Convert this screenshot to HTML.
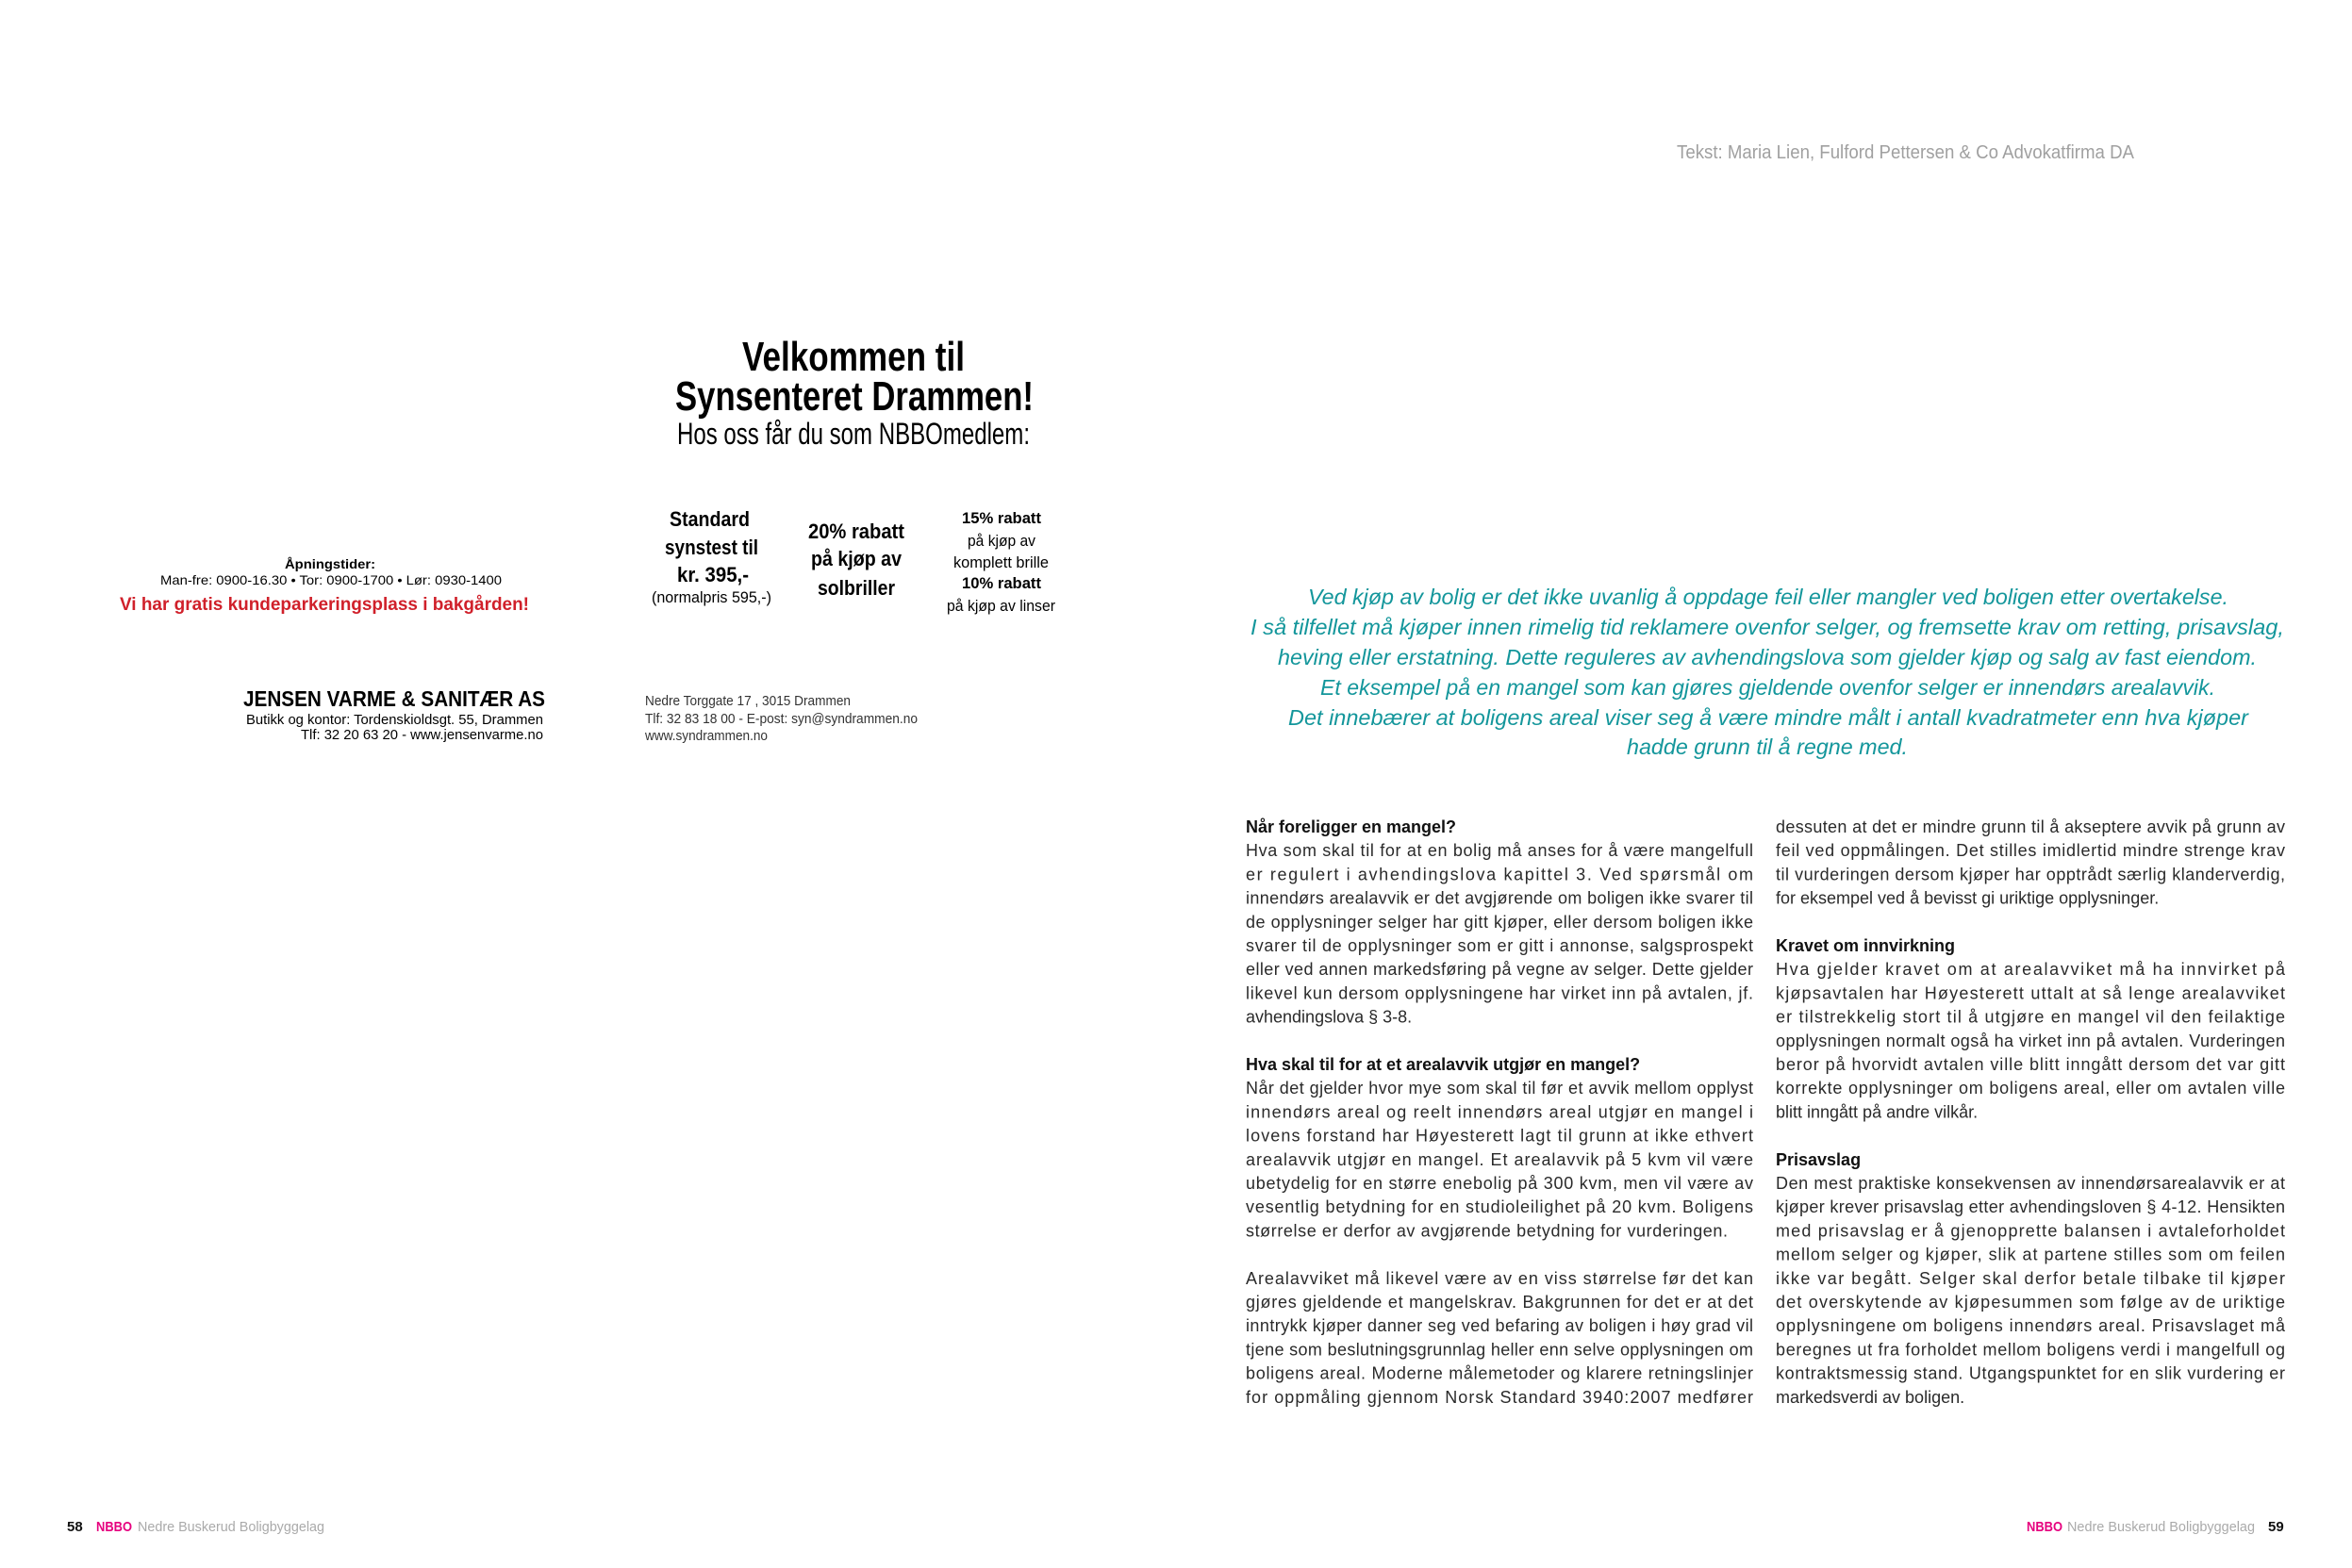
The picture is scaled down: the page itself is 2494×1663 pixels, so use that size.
<!DOCTYPE html>
<html><head><meta charset="utf-8"><style>
html,body{margin:0;padding:0;background:#fff;}
svg{display:block;}
.b{font-family:"Liberation Sans",sans-serif;font-size:18px;fill:#2a2a2a;}
.h{font-family:"Liberation Sans",sans-serif;font-size:18px;font-weight:bold;fill:#111;}
.ad{font-family:"Liberation Sans",sans-serif;fill:#000;}
.t{font-family:"Liberation Sans",sans-serif;font-style:italic;font-size:23px;fill:#13969b;}
</style></head><body>
<svg width="2494" height="1663" viewBox="0 0 2494 1663" xmlns="http://www.w3.org/2000/svg">
<text x="1778" y="168" font-family="Liberation Sans,sans-serif" font-size="20" fill="#a0a0a0" textLength="485" lengthAdjust="spacingAndGlyphs">Tekst: Maria Lien, Fulford Pettersen &amp; Co Advokatfirma DA</text>

<!-- Ad -->
<g class="ad" font-weight="bold">
<text x="787" y="393" font-size="44" textLength="236" lengthAdjust="spacingAndGlyphs">Velkommen til</text>
<text x="716" y="435" font-size="44" textLength="380" lengthAdjust="spacingAndGlyphs">Synsenteret Drammen!</text>
<text x="710" y="558" font-size="22" textLength="85" lengthAdjust="spacingAndGlyphs">Standard</text>
<text x="705" y="588" font-size="22" textLength="99" lengthAdjust="spacingAndGlyphs">synstest til</text>
<text x="718" y="617" font-size="22" textLength="76" lengthAdjust="spacingAndGlyphs">kr. 395,-</text>
<text x="857" y="571" font-size="22" textLength="102" lengthAdjust="spacingAndGlyphs">20% rabatt</text>
<text x="860" y="600" font-size="22" textLength="96" lengthAdjust="spacingAndGlyphs">på kjøp av</text>
<text x="867" y="631" font-size="22" textLength="82" lengthAdjust="spacingAndGlyphs">solbriller</text>
<text x="1020" y="555" font-size="17" textLength="84" lengthAdjust="spacingAndGlyphs">15% rabatt</text>
<text x="1020" y="624" font-size="17" textLength="84" lengthAdjust="spacingAndGlyphs">10% rabatt</text>
<text x="302" y="603" font-size="14" textLength="96" lengthAdjust="spacingAndGlyphs">Åpningstider:</text>
<text x="127" y="647" font-size="19" fill="#d0202a" textLength="434" lengthAdjust="spacingAndGlyphs">Vi har gratis kundeparkeringsplass i bakgården!</text>
<text x="258" y="749" font-size="23" textLength="320" lengthAdjust="spacingAndGlyphs">JENSEN VARME &amp; SANITÆR AS</text>
</g>
<g class="ad">
<text x="718" y="471" font-size="32" textLength="374" lengthAdjust="spacingAndGlyphs">Hos oss får du som NBBOmedlem:</text>
<text x="691" y="639" font-size="17" textLength="127" lengthAdjust="spacingAndGlyphs">(normalpris 595,-)</text>
<text x="1026" y="579" font-size="17" textLength="72" lengthAdjust="spacingAndGlyphs">på kjøp av</text>
<text x="1011" y="602" font-size="17" textLength="101" lengthAdjust="spacingAndGlyphs">komplett brille</text>
<text x="1004" y="648" font-size="17" textLength="115" lengthAdjust="spacingAndGlyphs">på kjøp av linser</text>
<text x="170" y="620" font-size="14" textLength="362" lengthAdjust="spacingAndGlyphs">Man-fre: 0900-16.30 • Tor: 0900-1700 • Lør: 0930-1400</text>
<text x="261" y="768" font-size="15" textLength="315" lengthAdjust="spacingAndGlyphs">Butikk og kontor: Tordenskioldsgt. 55, Drammen</text>
<text x="319" y="784" font-size="15" textLength="257" lengthAdjust="spacingAndGlyphs">Tlf: 32 20 63 20 - www.jensenvarme.no</text>
<g fill="#333">
<text x="684" y="748" font-size="15" textLength="218" lengthAdjust="spacingAndGlyphs">Nedre Torggate 17 , 3015 Drammen</text>
<text x="684" y="767" font-size="15" textLength="289" lengthAdjust="spacingAndGlyphs">Tlf: 32 83 18 00 - E-post: syn@syndrammen.no</text>
<text x="684" y="785" font-size="15" textLength="130" lengthAdjust="spacingAndGlyphs">www.syndrammen.no</text>
</g>
</g>

<!-- teal intro -->
<text class="t" x="1387" y="641" textLength="976" lengthAdjust="spacingAndGlyphs">Ved kjøp av bolig er det ikke uvanlig å oppdage feil eller mangler ved boligen etter overtakelse.</text>
<text class="t" x="1326" y="673" textLength="1096" lengthAdjust="spacingAndGlyphs">I så tilfellet må kjøper innen rimelig tid reklamere ovenfor selger, og fremsette krav om retting, prisavslag,</text>
<text class="t" x="1355" y="705" textLength="1038" lengthAdjust="spacingAndGlyphs">heving eller erstatning. Dette reguleres av avhendingslova som gjelder kjøp og salg av fast eiendom.</text>
<text class="t" x="1400" y="737" textLength="949" lengthAdjust="spacingAndGlyphs">Et eksempel på en mangel som kan gjøres gjeldende ovenfor selger er innendørs arealavvik.</text>
<text class="t" x="1366" y="769" textLength="1018" lengthAdjust="spacingAndGlyphs">Det innebærer at boligens areal viser seg å være mindre målt i antall kvadratmeter enn hva kjøper</text>
<text class="t" x="1725" y="800" textLength="298" lengthAdjust="spacingAndGlyphs">hadde grunn til å regne med.</text>

<!-- left column -->
<g>
<text class="h" x="1321" y="883">Når foreligger en mangel?</text>
<text class="b" x="1321" y="908.2" textLength="538" lengthAdjust="spacing">Hva som skal til for at en bolig må anses for å være mangelfull</text>
<text class="b" x="1321" y="933.4" textLength="538" lengthAdjust="spacing">er regulert i avhendingslova kapittel 3. Ved spørsmål om</text>
<text class="b" x="1321" y="958.6" textLength="538" lengthAdjust="spacing">innendørs arealavvik er det avgjørende om boligen ikke svarer til</text>
<text class="b" x="1321" y="983.8" textLength="538" lengthAdjust="spacing">de opplysninger selger har gitt kjøper, eller dersom boligen ikke</text>
<text class="b" x="1321" y="1009" textLength="538" lengthAdjust="spacing">svarer til de opplysninger som er gitt i annonse, salgsprospekt</text>
<text class="b" x="1321" y="1034.2" textLength="538" lengthAdjust="spacing">eller ved annen markedsføring på vegne av selger. Dette gjelder</text>
<text class="b" x="1321" y="1059.4" textLength="538" lengthAdjust="spacing">likevel kun dersom opplysningene har virket inn på avtalen, jf.</text>
<text class="b" x="1321" y="1084.6">avhendingslova § 3-8.</text>
<text class="h" x="1321" y="1135">Hva skal til for at et arealavvik utgjør en mangel?</text>
<text class="b" x="1321" y="1160.2" textLength="538" lengthAdjust="spacing">Når det gjelder hvor mye som skal til før et avvik mellom opplyst</text>
<text class="b" x="1321" y="1185.4" textLength="538" lengthAdjust="spacing">innendørs areal og reelt innendørs areal utgjør en mangel i</text>
<text class="b" x="1321" y="1210.6" textLength="538" lengthAdjust="spacing">lovens forstand har Høyesterett lagt til grunn at ikke ethvert</text>
<text class="b" x="1321" y="1235.8" textLength="538" lengthAdjust="spacing">arealavvik utgjør en mangel. Et arealavvik på 5 kvm vil være</text>
<text class="b" x="1321" y="1261" textLength="538" lengthAdjust="spacing">ubetydelig for en større enebolig på 300 kvm, men vil være av</text>
<text class="b" x="1321" y="1286.2" textLength="538" lengthAdjust="spacing">vesentlig betydning for en studioleilighet på 20 kvm. Boligens</text>
<text class="b" x="1321" y="1311.4" textLength="511" lengthAdjust="spacing">størrelse er derfor av avgjørende betydning for vurderingen.</text>
<text class="b" x="1321" y="1361.8" textLength="538" lengthAdjust="spacing">Arealavviket må likevel være av en viss størrelse før det kan</text>
<text class="b" x="1321" y="1387" textLength="538" lengthAdjust="spacing">gjøres gjeldende et mangelskrav. Bakgrunnen for det er at det</text>
<text class="b" x="1321" y="1412.2" textLength="538" lengthAdjust="spacing">inntrykk kjøper danner seg ved befaring av boligen i høy grad vil</text>
<text class="b" x="1321" y="1437.4" textLength="538" lengthAdjust="spacing">tjene som beslutningsgrunnlag heller enn selve opplysningen om</text>
<text class="b" x="1321" y="1462.6" textLength="538" lengthAdjust="spacing">boligens areal. Moderne målemetoder og klarere retningslinjer</text>
<text class="b" x="1321" y="1487.8" textLength="538" lengthAdjust="spacing">for oppmåling gjennom Norsk Standard 3940:2007 medfører</text>
</g>
<!-- right column -->
<g>
<text class="b" x="1883" y="883" textLength="540" lengthAdjust="spacing">dessuten at det er mindre grunn til å akseptere avvik på grunn av</text>
<text class="b" x="1883" y="908.2" textLength="540" lengthAdjust="spacing">feil ved oppmålingen. Det stilles imidlertid mindre strenge krav</text>
<text class="b" x="1883" y="933.4" textLength="540" lengthAdjust="spacing">til vurderingen dersom kjøper har opptrådt særlig klanderverdig,</text>
<text class="b" x="1883" y="958.6">for eksempel ved å bevisst gi uriktige opplysninger.</text>
<text class="h" x="1883" y="1009">Kravet om innvirkning</text>
<text class="b" x="1883" y="1034.2" textLength="540" lengthAdjust="spacing">Hva gjelder kravet om at arealavviket må ha innvirket på</text>
<text class="b" x="1883" y="1059.4" textLength="540" lengthAdjust="spacing">kjøpsavtalen har Høyesterett uttalt at så lenge arealavviket</text>
<text class="b" x="1883" y="1084.6" textLength="540" lengthAdjust="spacing">er tilstrekkelig stort til å utgjøre en mangel vil den feilaktige</text>
<text class="b" x="1883" y="1109.8" textLength="540" lengthAdjust="spacing">opplysningen normalt også ha virket inn på avtalen. Vurderingen</text>
<text class="b" x="1883" y="1135" textLength="540" lengthAdjust="spacing">beror på hvorvidt avtalen ville blitt inngått dersom det var gitt</text>
<text class="b" x="1883" y="1160.2" textLength="540" lengthAdjust="spacing">korrekte opplysninger om boligens areal, eller om avtalen ville</text>
<text class="b" x="1883" y="1185.4">blitt inngått på andre vilkår.</text>
<text class="h" x="1883" y="1235.8">Prisavslag</text>
<text class="b" x="1883" y="1261" textLength="540" lengthAdjust="spacing">Den mest praktiske konsekvensen av innendørsarealavvik er at</text>
<text class="b" x="1883" y="1286.2" textLength="540" lengthAdjust="spacing">kjøper krever prisavslag etter avhendingsloven § 4-12. Hensikten</text>
<text class="b" x="1883" y="1311.4" textLength="540" lengthAdjust="spacing">med prisavslag er å gjenopprette balansen i avtaleforholdet</text>
<text class="b" x="1883" y="1336.6" textLength="540" lengthAdjust="spacing">mellom selger og kjøper, slik at partene stilles som om feilen</text>
<text class="b" x="1883" y="1361.8" textLength="540" lengthAdjust="spacing">ikke var begått. Selger skal derfor betale tilbake til kjøper</text>
<text class="b" x="1883" y="1387" textLength="540" lengthAdjust="spacing">det overskytende av kjøpesummen som følge av de uriktige</text>
<text class="b" x="1883" y="1412.2" textLength="540" lengthAdjust="spacing">opplysningene om boligens innendørs areal. Prisavslaget må</text>
<text class="b" x="1883" y="1437.4" textLength="540" lengthAdjust="spacing">beregnes ut fra forholdet mellom boligens verdi i mangelfull og</text>
<text class="b" x="1883" y="1462.6" textLength="540" lengthAdjust="spacing">kontraktsmessig stand. Utgangspunktet for en slik vurdering er</text>
<text class="b" x="1883" y="1487.8">markedsverdi av boligen.</text>
</g>

<!-- footers -->
<g font-family="Liberation Sans,sans-serif" font-size="15">
<text x="71" y="1624" font-weight="bold" fill="#111">58</text>
<text x="102" y="1624" font-weight="bold" fill="#e6007e" textLength="38" lengthAdjust="spacingAndGlyphs">NBBO</text>
<text x="146" y="1624" fill="#aaa" textLength="198" lengthAdjust="spacingAndGlyphs">Nedre Buskerud Boligbyggelag</text>
<text x="2149" y="1624" font-weight="bold" fill="#e6007e" textLength="38" lengthAdjust="spacingAndGlyphs">NBBO</text>
<text x="2192" y="1624" fill="#aaa" textLength="199" lengthAdjust="spacingAndGlyphs">Nedre Buskerud Boligbyggelag</text>
<text x="2405" y="1624" font-weight="bold" fill="#111">59</text>
</g>
</svg>
</body></html>
